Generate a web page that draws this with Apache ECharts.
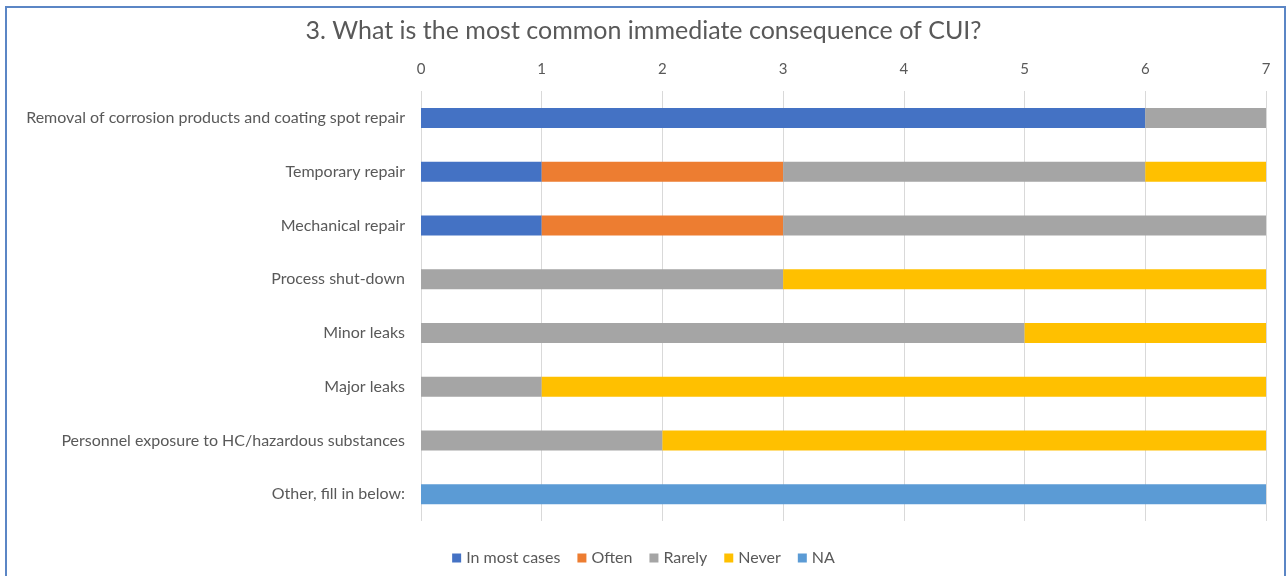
<!DOCTYPE html>
<html><head><meta charset="utf-8">
<script src="https://cdn.jsdelivr.net/npm/echarts@6/dist/echarts.min.js"></script>
<style>html,body{margin:0;padding:0;background:#fff}#c{width:1287px;height:576px}</style>
</head><body><div id="c"></div>
<script>
const categories = ["Removal of corrosion products and coating spot repair","Temporary repair","Mechanical repair","Process shut-down","Minor leaks","Major leaks","Personnel exposure to HC/hazardous substances","Other, fill in below:"];
const seriesNames = ["In most cases","Often","Rarely","Never","NA"];
const inMostCases = [6,1,1,0,0,0,0,0];
const often = [0,2,2,0,0,0,0,0];
const rarely = [1,3,4,3,5,1,2,0];
const never = [0,1,0,4,2,6,5,0];
const na = [0,0,0,0,0,0,0,7];
const colors = ["#4472C4","#ED7D31","#A5A5A5","#FFC000","#5B9BD5"];
const values = [inMostCases, often, rarely, never, na];
const font = "Lato, 'Open Sans', sans-serif";
const chart = echarts.init(document.getElementById('c'));
chart.setOption({
  animation:false,
  textStyle:{fontFamily:font},
  title:{text:"3. What is the most common immediate consequence of CUI?",left:'center',top:13,textStyle:{fontFamily:font,fontSize:25,fontWeight:'normal',color:'#595959'}},
  legend:{bottom:5,left:'center',itemWidth:9,itemHeight:9,itemGap:17,icon:'rect',textStyle:{fontFamily:font,fontSize:16,color:'#595959'},data:seriesNames},
  grid:{left:421,right:21,top:91,height:430,containLabel:false},
  xAxis:{type:'value',position:'top',min:0,max:7,interval:1,axisLine:{show:false},axisTick:{show:false},
    axisLabel:{fontFamily:font,fontSize:15,color:'#595959',margin:14},splitLine:{lineStyle:{color:'#D9D9D9'}}},
  yAxis:{type:'category',inverse:true,data:categories,axisLine:{show:false},axisTick:{show:false},
    axisLabel:{fontFamily:font,fontSize:16,color:'#595959',margin:16}},
  graphic:[{type:'rect',shape:{x:6,y:7,width:1279,height:620},style:{fill:'none',stroke:'#5B86C5',lineWidth:2},silent:true}],
  series: seriesNames.map((n,i)=>({name:n,type:'bar',stack:'t',barWidth:20,itemStyle:{color:colors[i]},data:values[i]}))
});
</script></body></html>
